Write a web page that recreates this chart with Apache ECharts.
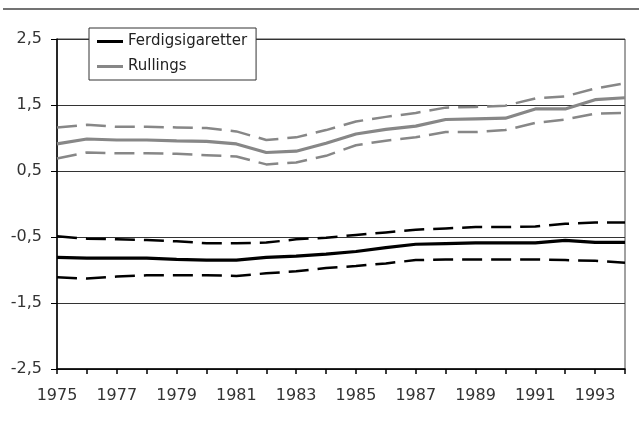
<!DOCTYPE html>
<html>
<head>
<meta charset="utf-8">
<style>
  html, body { margin: 0; padding: 0; background: #fff; }
  #chart { width: 639px; height: 426px; }
</style>
<script src="https://cdn.jsdelivr.net/npm/echarts@6/dist/echarts.min.js"></script>
</head>
<body>
<div id="chart"></div>
<script>
// år
var years = ["1975", "1976", "1977", "1978", "1979", "1980", "1981", "1982", "1983", "1984",
  "1985", "1986", "1987", "1988", "1989", "1990", "1991", "1992", "1993", "1994"];

// Rullings (grå)
var rullings = [0.91, 0.985, 0.97, 0.97, 0.955, 0.95, 0.91, 0.78, 0.80, 0.92,
  1.06, 1.13, 1.18, 1.28, 1.29, 1.30, 1.44, 1.44, 1.58, 1.61];
var rullingsHigh = [1.16, 1.20, 1.17, 1.17, 1.16, 1.15, 1.10, 0.97, 1.01, 1.12,
  1.25, 1.32, 1.38, 1.46, 1.47, 1.49, 1.60, 1.63, 1.75, 1.83];
var rullingsLow = [0.69, 0.78, 0.77, 0.77, 0.76, 0.74, 0.72, 0.60, 0.63, 0.73,
  0.89, 0.96, 1.01, 1.09, 1.09, 1.12, 1.23, 1.28, 1.37, 1.38];

// Ferdigsigaretter (svart)
var ferdig = [-0.81, -0.82, -0.82, -0.82, -0.84, -0.85, -0.85, -0.81, -0.79, -0.76,
  -0.72, -0.66, -0.61, -0.60, -0.59, -0.59, -0.59, -0.55, -0.58, -0.58];
var ferdigHigh = [-0.49, -0.525, -0.535, -0.545, -0.565, -0.595, -0.595, -0.585, -0.535, -0.51,
  -0.47, -0.43, -0.39, -0.37, -0.35, -0.35, -0.34, -0.30, -0.28, -0.28];
var ferdigLow = [-1.11, -1.13, -1.10, -1.08, -1.08, -1.08, -1.09, -1.05, -1.02, -0.97,
  -0.94, -0.90, -0.85, -0.84, -0.84, -0.84, -0.84, -0.85, -0.86, -0.89];

var yTicks = { min: -2.5, max: 2.5, step: 1 };

var GRAY = "#878787";
var FONT = "DejaVu Sans";

var chart = echarts.init(document.getElementById("chart"));

function solid(name, data, color) {
  return {
    name: name,
    type: "line",
    data: data,
    symbol: "none",
    z: 3,
    lineStyle: { color: color, width: 3.2 }
  };
}
function dashed(name, data, color) {
  return {
    name: name,
    type: "line",
    data: data,
    symbol: "none",
    z: 2,
    lineStyle: { color: color, width: 2.5, type: [20, 9] }
  };
}

chart.setOption({
  animation: false,
  grid: {
    left: 57,
    right: 14,
    top: 39,
    bottom: 57,
    show: true,
    borderColor: "#444",
    borderWidth: 1
  },
  // linja øverst
  graphic: [{
    type: "line",
    shape: { x1: 3, y1: 9, x2: 639, y2: 9 },
    style: { stroke: "#444", lineWidth: 1.5 }
  }],
  legend: {
    orient: "vertical",
    left: 89,
    top: 28,
    padding: [5, 9, 5, 8],
    itemGap: 8,
    itemWidth: 26,
    itemHeight: 3,
    borderColor: "#333",
    borderWidth: 1,
    backgroundColor: "#fff",
    textStyle: { fontFamily: FONT, fontSize: 15, color: "#222", lineHeight: 17 },
    data: [
      { name: "Ferdigsigaretter", icon: "rect", itemStyle: { color: "#000" } },
      { name: "Rullings", icon: "rect", itemStyle: { color: GRAY } }
    ]
  },
  xAxis: {
    type: "category",
    data: years,
    boundaryGap: false,
    axisLine: { onZero: false, lineStyle: { color: "#000", width: 1.5 } },
    axisTick: { show: true, interval: 0, length: 5, lineStyle: { color: "#000", width: 1.5 } },
    axisLabel: {
      interval: 1,
      margin: 19,
      fontFamily: FONT,
      fontSize: 16,
      color: "#333"
    },
    splitLine: { show: false }
  },
  yAxis: {
    type: "value",
    min: yTicks.min,
    max: yTicks.max,
    interval: yTicks.step,
    axisLine: { show: true, lineStyle: { color: "#000", width: 1.5 } },
    axisTick: { show: true, length: 6, lineStyle: { color: "#000", width: 1 } },
    axisLabel: {
      margin: 15,
      fontFamily: FONT,
      fontSize: 16,
      color: "#333",
      formatter: function (v) {
        return v.toFixed(1).replace(".", ",");
      }
    },
    splitLine: { show: true, lineStyle: { color: "#333", width: 1 } }
  },
  series: [
    dashed("Rullings øvre", rullingsHigh, GRAY),
    dashed("Rullings nedre", rullingsLow, GRAY),
    solid("Rullings", rullings, GRAY),
    dashed("Ferdigsigaretter øvre", ferdigHigh, "#000"),
    dashed("Ferdigsigaretter nedre", ferdigLow, "#000"),
    solid("Ferdigsigaretter", ferdig, "#000")
  ]
});
</script>
</body>
</html>
